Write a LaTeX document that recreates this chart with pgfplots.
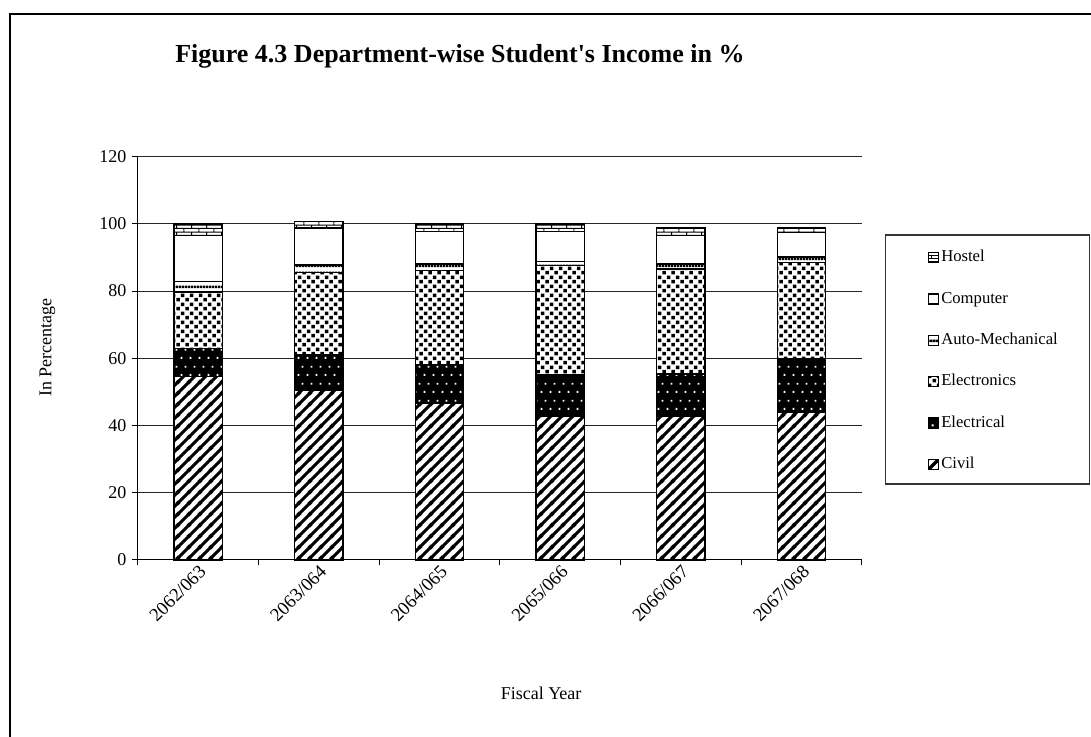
\documentclass[border=0pt]{standalone}
\usepackage{pgfplots}
\pgfplotsset{compat=1.18}
\usepackage{fontspec}
\setmainfont{Liberation Serif}
\usetikzlibrary{patterns}

% Fill patterns for the departments
\pgfdeclarepatternformonly{civilstripes}{\pgfqpoint{0pt}{0pt}}{\pgfqpoint{8.4pt}{8.4pt}}{\pgfqpoint{8.4pt}{8.4pt}}{%
  \pgfsetlinewidth{2.5pt}%
  \pgfpathmoveto{\pgfqpoint{-1pt}{-1pt}}\pgfpathlineto{\pgfqpoint{9.4pt}{9.4pt}}%
  \pgfpathmoveto{\pgfqpoint{-2pt}{6.4pt}}\pgfpathlineto{\pgfqpoint{2pt}{10.4pt}}%
  \pgfpathmoveto{\pgfqpoint{6.4pt}{-2pt}}\pgfpathlineto{\pgfqpoint{10.4pt}{2pt}}%
  \pgfusepath{stroke}}
\pgfdeclarepatternformonly{whitedots}{\pgfqpoint{0pt}{0pt}}{\pgfqpoint{6.4pt}{12.8pt}}{\pgfqpoint{6.4pt}{12.8pt}}{%
  \pgfpathrectangle{\pgfqpoint{1.2pt}{2.5pt}}{\pgfqpoint{1.5pt}{1.5pt}}%
  \pgfpathrectangle{\pgfqpoint{4.4pt}{8.9pt}}{\pgfqpoint{1.5pt}{1.5pt}}%
  \pgfusepath{fill}}
\pgfdeclarepatternformonly{squaredots}{\pgfqpoint{0pt}{0pt}}{\pgfqpoint{7pt}{7pt}}{\pgfqpoint{7pt}{7pt}}{%
  \pgfpathrectangle{\pgfqpoint{0.4pt}{0.4pt}}{\pgfqpoint{2.8pt}{2.8pt}}%
  \pgfpathrectangle{\pgfqpoint{3.9pt}{3.9pt}}{\pgfqpoint{2.8pt}{2.8pt}}%
  \pgfusepath{fill}}
\pgfdeclarepatternformonly{widehoriz}{\pgfqpoint{0pt}{0pt}}{\pgfqpoint{2pt}{5pt}}{\pgfqpoint{2pt}{5pt}}{%
  \pgfpathrectangle{\pgfqpoint{-0.1pt}{1.5pt}}{\pgfqpoint{2.2pt}{2pt}}%
  \pgfusepath{fill}}
\pgfdeclarepatternformonly{hostelbricks}{\pgfqpoint{0pt}{0pt}}{\pgfqpoint{11pt}{5pt}}{\pgfqpoint{11pt}{5pt}}{%
  \pgfsetlinewidth{0.8pt}%
  \pgfpathmoveto{\pgfqpoint{-1pt}{1.25pt}}\pgfpathlineto{\pgfqpoint{12pt}{1.25pt}}%
  \pgfpathmoveto{\pgfqpoint{-1pt}{3.75pt}}\pgfpathlineto{\pgfqpoint{12pt}{3.75pt}}%
  \pgfpathmoveto{\pgfqpoint{0.5pt}{1.25pt}}\pgfpathlineto{\pgfqpoint{0.5pt}{3.75pt}}%
  \pgfpathmoveto{\pgfqpoint{6pt}{3.75pt}}\pgfpathlineto{\pgfqpoint{6pt}{5.2pt}}%
  \pgfpathmoveto{\pgfqpoint{6pt}{-0.2pt}}\pgfpathlineto{\pgfqpoint{6pt}{1.25pt}}%
  \pgfusepath{stroke}}

\begin{document}
\begin{tikzpicture}
\useasboundingbox (-103.3pt,-132.75pt) rectangle (715pt,420pt);
% chart frame
\draw[line width=1.2pt] (-95.8pt,-133pt) -- (-95.8pt,409.5pt) -- (716pt,409.5pt);
\node[anchor=base west, inner sep=0pt, font=\fontsize{19.5}{22}\selectfont\bfseries]
  at (28pt,373pt) {Figure 4.3 Department-wise Student\textquotesingle s Income in \%};
\begin{axis}[
  at={(0,0)}, anchor=south west,
  scale only axis, width=543.2pt, height=302.5pt,
  clip=false,
  ybar stacked, bar width=0.4,
  xmin=-0.5, xmax=5.5,
  ymin=0, ymax=120, ytick={0,20,...,120},
  xtick={-0.5,0.5,...,5.5}, xticklabels={},
  extra x ticks={0,1,2,3,4,5},
  extra x tick labels={2062/063,2063/064,2064/065,2065/066,2066/067,2067/068},
  extra x tick style={major tick length=0pt},
  tick align=outside, major tick length=4pt,
  axis x line*=bottom, axis y line*=left,
  axis line style={black, line width=0.8pt},
  tick style={black, line width=0.8pt},
  ymajorgrids, major grid style={black!85, line width=0.7pt},
  /pgf/number format/assume math mode=true,
  yticklabel style={font=\fontsize{13.5}{15}\selectfont, xshift=-1pt},
  xticklabel style={font=\fontsize{14}{16}\selectfont, rotate=45, anchor=north east, inner sep=2pt},
  xlabel={Fiscal Year}, ylabel={In Percentage},
  every axis x label/.style={at={(axis description cs:0.557,-0.33)}, anchor=center,
    font=\fontsize{13.5}{16}\selectfont},
  every axis y label/.style={at={(axis description cs:-0.1246,0.527)}, rotate=90, anchor=center,
    font=\fontsize{13.5}{16}\selectfont},
  legend style={draw=none, fill=none, at={(1.0911,0.770)}, anchor=north west,
    inner sep=0pt, row sep=19pt, font=\fontsize{12.5}{15}\selectfont,
    nodes={inner xsep=1.5pt, inner ysep=0pt, text height=9pt, text depth=3pt},
    cells={anchor=west}},
  legend cell align=left,
  reverse legend,
  legend image code/.code={\draw[#1, line width=0.8pt] (0pt,-3.75pt) rectangle (7.5pt,3.75pt);},
]
% Civil
\addplot[draw=black, line width=1pt, fill=white, postaction={pattern=civilstripes}]
  coordinates {(0,54.5) (1,50.6) (2,46.7) (3,42.8) (4,42.8) (5,43.8)};
% Electrical
\addplot[draw=black, line width=1pt, fill=black, postaction={pattern=whitedots, pattern color=white}]
  coordinates {(0,8.5) (1,10.4) (2,11.5) (3,12.2) (4,12.5) (5,16.2)};
% Electronics
\addplot[draw=black, line width=1pt, fill=white, postaction={pattern=squaredots}]
  coordinates {(0,16.7) (1,24.6) (2,27.9) (3,32.6) (4,31.3) (5,28.6)};
% Auto-Mechanical
\addplot[draw=black, line width=1pt, fill=white, postaction={pattern=widehoriz}]
  coordinates {(0,3.1) (1,2.2) (2,2.0) (3,1.2) (4,1.5) (5,1.5)};
% Computer
\addplot[draw=black, line width=1pt, fill=white]
  coordinates {(0,13.7) (1,11.0) (2,9.7) (3,9.0) (4,8.4) (5,7.4)};
% Hostel
\addplot[draw=black, line width=1pt, fill=white, postaction={pattern=hostelbricks}]
  coordinates {(0,3.5) (1,2.0) (2,2.2) (3,2.2) (4,2.5) (5,1.5)};
\legend{Civil,Electrical,Electronics,Auto-Mechanical,Computer,Hostel}
% legend frame
\draw[black!80, line width=0.8pt] (axis description cs:1.0331,0.1884) rectangle (axis description cs:1.3148,0.8058);
\end{axis}
\end{tikzpicture}
\end{document}
